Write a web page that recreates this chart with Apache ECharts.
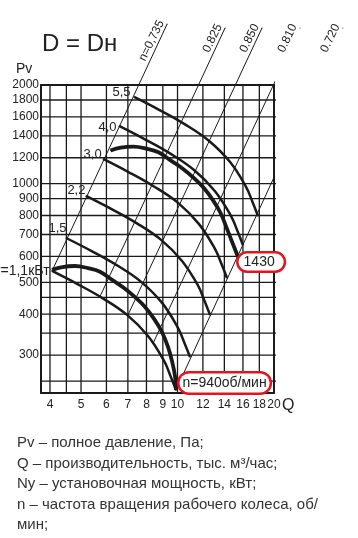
<!DOCTYPE html>
<html>
<head>
<meta charset="utf-8">
<title>D = Dн</title>
<script src="https://cdn.jsdelivr.net/npm/echarts@6/dist/echarts.min.js"></script>
<style>
html, body { margin: 0; padding: 0; background: #fff; }
#chart { width: 358px; height: 538px; }
</style>
</head>
<body>
<div id="chart"></div>
<script>
// оси (логарифмические): Q, тыс. м3/час и Pv, Па
var qTicks = [4, 5, 6, 7, 8, 9, 10, 12, 14, 16, 18, 20];
var qGrid = [4, 4.5, 5, 6, 7, 8, 9, 10, 12, 14, 16, 18];
var pTicks = [300, 400, 500, 600, 700, 800, 900, 1000, 1200, 1400, 1600, 1800, 2000];
var pGrid = [250, 300, 350, 400, 450, 500, 600, 700, 800, 900, 1000, 1200, 1400, 1600, 1800];
var qMin = 3.75, qMax = 20, pMin = 230, pMax = 2000;
// концы линий сетки: чуть выше min (значения <= min на log-оси не рисуются), сверху обрезка по grid
var qSpan = [3.76, 22], pSpan = [231, 2200];

// характеристики вентилятора, n = 940 и 1430 об/мин
var n940 = [[4.06, 546], [4.37, 557], [4.79, 561], [5.25, 553], [5.73, 539], [6.25, 509], [6.81, 481], [7.37, 451],
    [7.92, 421], [8.45, 387], [8.94, 353], [9.34, 318], [9.61, 288], [9.82, 259], [9.89, 235]];
var n1430 = [[6.18, 1263], [6.65, 1289], [7.29, 1298], [7.99, 1280], [8.72, 1247], [9.51, 1178], [10.36, 1113],
    [11.21, 1044], [12.05, 974], [12.85, 896], [13.6, 817], [14.21, 736], [14.75, 670], [15.45, 598]];

// кривые по установочной мощности Ny, кВт
var ny11 = [[4.06, 542], [4.86, 495], [5.85, 447], [6.96, 398], [8.09, 343], [9.08, 288], [9.48, 261], [9.89, 235]];
var ny15 = [[4.49, 683], [5.38, 624], [6.47, 564], [7.7, 502], [8.95, 433], [10.04, 363], [10.48, 329], [10.94, 296]];
var ny22 = [[5.18, 918], [6.21, 838], [7.47, 757], [8.89, 674], [10.33, 581], [11.6, 488], [12.11, 442], [12.63, 398]];
var ny30 = [[5.86, 1190], [7.01, 1087], [8.44, 981], [10.04, 874], [11.67, 753], [13.1, 632], [13.68, 573], [14.27, 516]];
var ny40 = [[6.57, 1500], [7.86, 1370], [9.47, 1237], [11.26, 1101], [13.09, 949], [14.69, 797], [15.34, 722], [16.0, 650]];
var ny55 = [[7.32, 1839], [8.76, 1680], [10.55, 1517], [12.55, 1350], [14.59, 1164], [16.37, 977], [17.09, 886], [17.83, 797]];

// линии КПД (начало на нижней кривой, конец над полем графика)
var eta735 = [[4.06, 542], [9.28, 3068]];
var eta825 = [[5.73, 453], [14.07, 2985]];
var eta850 = [[6.99, 396], [18.35, 2985]];
var eta810 = [[8.39, 326], [24.1, 2985]];
var eta720 = [[9.89, 235], [32.8, 2985]];

var FONT = '"Liberation Sans", Arial, sans-serif';
var INK = '#1a1a1a';

function withLabel(data, index, label) {
    return data.map(function (p, i) {
        return i === index ? {value: p, label: label} : p;
    });
}

function nyLabel(text, offset, size) {
    return {show: true, formatter: text, position: 'left', distance: 2, offset: offset,
        fontSize: size || 13, color: '#222', fontFamily: FONT};
}

function etaLabel(text) {
    return {show: true, formatter: text, position: [0, 0], align: 'right', verticalAlign: 'bottom',
        rotate: 64, fontSize: 12, color: '#222', fontFamily: FONT};
}

function boxLabel(text, offset, padding) {
    return {show: true, formatter: text, position: 'right', distance: 3, offset: offset,
        fontSize: 14, color: '#222', fontFamily: FONT, backgroundColor: '#fff',
        borderColor: '#e3141c', borderWidth: 2.5, borderRadius: 10, padding: padding};
}

function curve(name, data, width) {
    return {
        name: name, type: 'line', data: data, smooth: 0.4,
        symbol: 'circle', symbolSize: 1, showSymbol: true,
        itemStyle: {color: INK}, lineStyle: {color: INK, width: width},
        z: 5
    };
}

function etaLine(name, data, text) {
    return {
        name: name, type: 'line', data: withLabel(data, 1, etaLabel(text)), clip: false,
        symbol: 'circle', symbolSize: 1, showSymbol: true,
        itemStyle: {color: INK}, lineStyle: {color: INK, width: 1},
        z: 4
    };
}

// сетка: вертикальные (по Q) и горизонтальные (по Pv) линии
function gridLine(data) {
    return {
        type: 'line', data: data, symbol: 'circle', symbolSize: 1, showSymbol: false,
        silent: true, clip: true, itemStyle: {color: INK},
        lineStyle: {color: INK, width: 1.3}, z: 3
    };
}

var series = [];
qGrid.forEach(function (q) {
    series.push(gridLine([[q, pSpan[0]], [q, pSpan[1]]]));
});
pGrid.forEach(function (p) {
    series.push(gridLine([[qSpan[0], p], [qSpan[1], p]]));
});

series.push(
    etaLine('0,735', eta735, 'n=0,735'),
    etaLine('0,825', eta825, '0.825'),
    etaLine('0,850', eta850, '0.850'),
    etaLine('0,810', eta810, '0.810'),
    etaLine('0,720', eta720, '0.720'),
    curve('1,1', withLabel(ny11, 0, nyLabel('Ny=1,1кВт', [0, 0], 14)), 2.5),
    curve('1,5', withLabel(ny15, 0, nyLabel('1,5', [3, -10])), 2.5),
    curve('2,2', withLabel(ny22, 0, nyLabel('2,2', [2, -5])), 2.5),
    curve('3,0', withLabel(ny30, 0, nyLabel('3,0', [1, -5])), 2.5),
    curve('4,0', withLabel(ny40, 0, nyLabel('4,0', [0, 1])), 2.5),
    curve('5,5', withLabel(ny55, 0, nyLabel('5,5', [-1, -5])), 2.5),
    curve('940', withLabel(n940, n940.length - 1, boxLabel('n=940об/мин', [0, -7], [3, 3, 2, 3])), 3.8),
    curve('1430', withLabel(n1430, n1430.length - 1, boxLabel('1430', [-3, 5], [2, 9, 1, 5])), 3.8)
);

function plain(v) {
    return String(v);
}

function frameAxis(type, position, min, max) {
    return {
        type: type, logBase: 10, min: min, max: max, position: position,
        axisLine: {show: true, lineStyle: {color: INK, width: 2}},
        axisTick: {show: false}, splitLine: {show: false}, axisLabel: {show: false}
    };
}

var chart = echarts.init(document.getElementById('chart'));
chart.setOption({
    animation: false,
    backgroundColor: '#fff',
    grid: {left: 41, right: 84, top: 85, bottom: 145, show: false},
    xAxis: [{
        type: 'log', logBase: 10, min: qMin, max: qMax, position: 'bottom',
        axisLine: {show: true, lineStyle: {color: INK, width: 2}},
        axisTick: {show: false},
        splitLine: {show: false},
        axisLabel: {customValues: qTicks, formatter: plain, margin: 6, fontSize: 12, color: '#222', fontFamily: FONT}
    }, frameAxis('log', 'top', qMin, qMax)],
    yAxis: [{
        type: 'log', logBase: 10, min: pMin, max: pMax, position: 'left',
        axisLine: {show: true, lineStyle: {color: INK, width: 2}},
        axisTick: {show: false},
        splitLine: {show: false},
        axisLabel: {customValues: pTicks, formatter: plain, margin: 2, fontSize: 12, color: '#222', fontFamily: FONT}
    }, frameAxis('log', 'right', pMin, pMax)],
    graphic: [
        {type: 'text', left: 42, top: 32, style: {text: 'D = Dн', font: '24px ' + FONT, fill: '#222'}},
        {type: 'text', left: 16, top: 62, style: {text: 'Pv', font: '14px ' + FONT, fill: '#222'}},
        {type: 'text', left: 282, top: 398, style: {text: 'Q', font: '16px ' + FONT, fill: '#222'}},
        {type: 'text', left: 17, top: 433, style: {
            text: 'Pv – полное давление, Па;\nQ – производительность, тыс. м³/час;\nNy – установочная мощность, кВт;\nn – частота вращения рабочего колеса, об/\nмин;',
            font: '15px ' + FONT, fill: '#333', lineHeight: 20.5
        }}
    ],
    series: series
});
</script>
</body>
</html>
